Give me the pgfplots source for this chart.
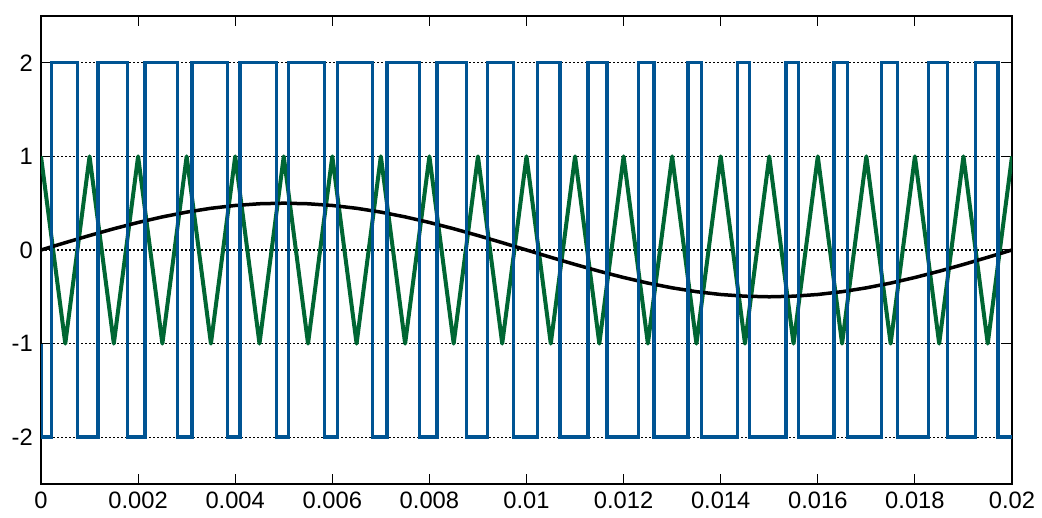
\documentclass[border=0pt]{standalone}
\usepackage{fontspec}
\setmainfont{Liberation Sans}
\usepackage{pgfplots}
\pgfplotsset{compat=1.18}
\definecolor{pwmblue}{RGB}{0,84,147}
\definecolor{trigreen}{RGB}{0,102,51}
\begin{document}
\fontsize{11.9}{14}\selectfont
\begin{tikzpicture}
\begin{axis}[
  scale only axis, width=485.5bp, height=234bp,
  xmin=0, xmax=0.02, ymin=-2.5, ymax=2.5,
  xtick={0,0.002,0.004,0.006,0.008,0.01,0.012,0.014,0.016,0.018,0.02},
  xticklabels={0,0.002,0.004,0.006,0.008,0.01,0.012,0.014,0.016,0.018,0.02},
  ytick={-2,-1,0,1,2}, yticklabels={-2,-1,0,1,2},
  scaled x ticks=false,
  tick align=inside, major tick length=5bp,
  xtick pos=both, ytick pos=both,
  tick style={black, line width=0.5bp},
  axis line style={black, line width=1bp},
  ymajorgrids,
  major grid style={black, line width=0.6bp, dash pattern=on 1bp off 1bp},
  tick label style={font=\fontsize{11.9}{14}\selectfont},
]
% triangular carrier
\addplot[trigreen, line width=2bp, line join=round] coordinates {
(0,1)(0.0005,-1)(0.001,1)(0.0015,-1)(0.002,1)(0.0025,-1)(0.003,1)(0.0035,-1)
(0.004,1)(0.0045,-1)(0.005,1)(0.0055,-1)(0.006,1)(0.0065,-1)(0.007,1)(0.0075,-1)
(0.008,1)(0.0085,-1)(0.009,1)(0.0095,-1)(0.010,1)(0.0105,-1)(0.011,1)(0.0115,-1)
(0.012,1)(0.0125,-1)(0.013,1)(0.0135,-1)(0.014,1)(0.0145,-1)(0.015,1)(0.0155,-1)
(0.016,1)(0.0165,-1)(0.017,1)(0.0175,-1)(0.018,1)(0.0185,-1)(0.019,1)(0.0195,-1)
(0.020,1)
};
% reference sine
\addplot[black, line width=1.75bp, line join=round] coordinates {
(0,0)(0.0005,0.0782)(0.001,0.1545)(0.0015,0.2270)(0.002,0.2939)(0.0025,0.3536)
(0.003,0.4045)(0.0035,0.4455)(0.004,0.4755)(0.0045,0.4938)(0.005,0.5)
(0.0055,0.4938)(0.006,0.4755)(0.0065,0.4455)(0.007,0.4045)(0.0075,0.3536)
(0.008,0.2939)(0.0085,0.2270)(0.009,0.1545)(0.0095,0.0782)(0.010,0)
(0.0105,-0.0782)(0.011,-0.1545)(0.0115,-0.2270)(0.012,-0.2939)(0.0125,-0.3536)
(0.013,-0.4045)(0.0135,-0.4455)(0.014,-0.4755)(0.0145,-0.4938)(0.015,-0.5)
(0.0155,-0.4938)(0.016,-0.4755)(0.0165,-0.4455)(0.017,-0.4045)(0.0175,-0.3536)
(0.018,-0.2939)(0.0185,-0.2270)(0.019,-0.1545)(0.0195,-0.0782)(0.020,0)
};
% PWM output
\addplot[pwmblue, line width=1.7bp, const plot] coordinates {
(0,-1)(0,-2)
(0.0002102,2)(0.0007492,-2)
(0.0011722,2)(0.0017853,-2)
(0.0021388,2)(0.0028151,-2)
(0.0031134,2)(0.0038355,-2)
(0.0040985,2)(0.0048446,-2)
(0.0050954,2)(0.0058416,-2)
(0.0061045,2)(0.0068266,-2)
(0.0071250,2)(0.0078012,-2)
(0.0081547,2)(0.0087678,-2)
(0.0091908,2)(0.0097298,-2)
(0.0102298,2)(0.0106908,-2)
(0.0112678,2)(0.0116547,-2)
(0.0123012,2)(0.0126250,-2)
(0.0133266,2)(0.0136045,-2)
(0.0143416,2)(0.0145954,-2)
(0.0153446,2)(0.0155985,-2)
(0.0163355,2)(0.0166134,-2)
(0.0173151,2)(0.0176388,-2)
(0.0182853,2)(0.0186722,-2)
(0.0192492,2)(0.0197102,-2)
(0.020,-2)
};
\end{axis}
\pgfresetboundingbox
\path ([shift={(-20.5bp,-17bp)}]current axis.south west) rectangle ([shift={(15bp,8bp)}]current axis.north east);
\end{tikzpicture}
\end{document}
